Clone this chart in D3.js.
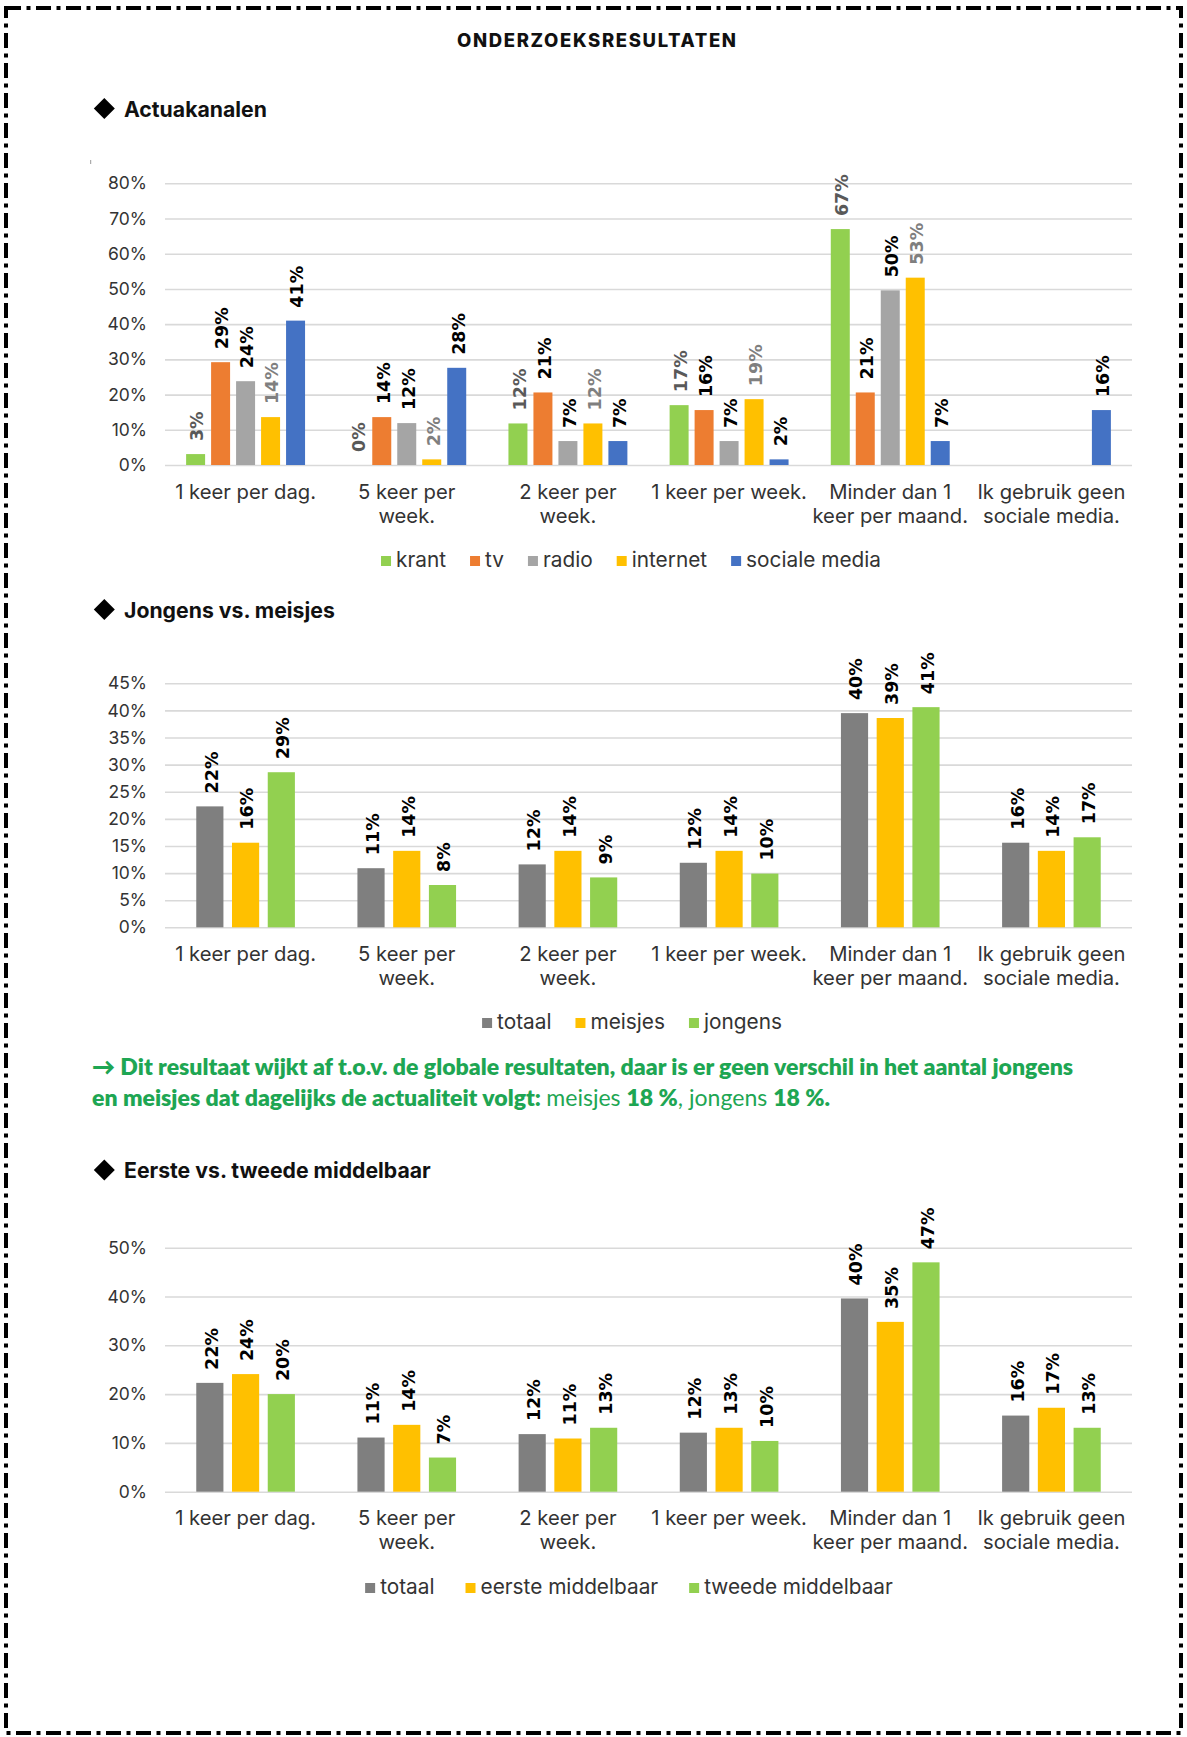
<!DOCTYPE html>
<html><head><meta charset="utf-8">
<script src="https://cdn.jsdelivr.net/npm/d3@7"></script>
<style>
html,body{margin:0;padding:0;background:#fff;}
svg{display:block;font-family:Inter,Lato,"Open Sans",sans-serif;}
</style></head><body>
<svg id="c" width="1187" height="1737"></svg>
<script>
// ---------- data ----------
const categories = ["1 keer per dag.", "5 keer per\nweek.", "2 keer per\nweek.", "1 keer per week.", "Minder dan 1\nkeer per maand.", "Ik gebruik geen\nsociale media."];

// Chart 1: Actuakanalen
const kanalen = ["krant", "tv", "radio", "internet", "sociale media"];
const krant        = [3.1, 0, 11.8, 17.0, 67.0, null];
const tv           = [29.2, 13.6, 20.6, 15.6, 20.6, null];
const radio        = [23.8, 11.9, 6.8, 6.8, 49.6, null];
const internet     = [13.6, 1.6, 11.8, 18.7, 53.2, null];
const socialeMedia = [41.0, 27.6, 6.8, 1.6, 6.8, 15.6];
const ticks1 = [0, 10, 20, 30, 40, 50, 60, 70, 80];

// Chart 2: Jongens vs. meisjes
const groepen2 = ["totaal", "meisjes", "jongens"];
const totaal2  = [22.3, 10.9, 11.6, 11.9, 39.5, 15.6];
const meisjes  = [15.6, 14.1, 14.1, 14.1, 38.6, 14.1];
const jongens  = [28.6, 7.8, 9.2, 9.9, 40.6, 16.6];
const ticks2 = [0, 5, 10, 15, 20, 25, 30, 35, 40, 45];

// Chart 3: Eerste vs. tweede middelbaar
const groepen3 = ["totaal", "eerste middelbaar", "tweede middelbaar"];
const totaal3  = [22.3, 11.1, 11.8, 12.1, 39.6, 15.6];
const eerste   = [24.1, 13.7, 10.9, 13.1, 34.8, 17.2];
const tweede   = [20.0, 7.0, 13.1, 10.4, 47.0, 13.1];
const ticks3 = [0, 10, 20, 30, 40, 50];

// ---------- drawing ----------
const svg = d3.select("#c");
const W = 1187, H = 1737;

svg.append("rect").attr("x", 6).attr("y", 8).attr("width", W - 12).attr("height", H - 12)
  .attr("fill", "none").attr("stroke", "#000").attr("stroke-width", 4)
  .attr("stroke-dasharray", "15,5.5,4,5.5");

function sizeFor(sample, target, weight, family) {
  const t = svg.append("text").attr("font-size", 20).attr("font-weight", weight)
    .attr("font-family", family).text(sample);
  const w = t.node().getComputedTextLength();
  t.remove();
  return 20 * target / w;
}
const REG = "Inter, Lato, sans-serif";
const fsTick = sizeFor("80%", 39, 400, REG);
const fsCat = sizeFor("1 keer per dag.", 141, 400, REG);
const fsLeg = sizeFor("sociale media", 135, 400, REG);
const fsHead = sizeFor("Actuakanalen", 143, 700, REG);

function fitText(sel, target) {
  const w = sel.node().getComputedTextLength();
  const n = sel.text().length;
  sel.attr("letter-spacing", ((target - w) / Math.max(1, n - 1)).toFixed(3));
}

const title = svg.append("text").attr("x", 457).attr("y", 47)
  .attr("font-size", 18.5).attr("font-weight", 800).attr("fill", "#111")
  .attr("font-family", REG)
  .text("ONDERZOEKSRESULTATEN");
fitText(title, 279);

function heading(text, cy) {
  svg.append("path")
    .attr("d", `M${104.3},${cy - 10.5} L${114.8},${cy} L${104.3},${cy + 10.5} L${93.8},${cy} Z`)
    .attr("fill", "#000");
  svg.append("text").attr("x", 124).attr("y", cy + 8)
    .attr("font-size", fsHead).attr("font-weight", 700).attr("fill", "#111")
    .attr("font-family", REG).text(text);
}
heading("Actuakanalen", 108.5);
heading("Jongens vs. meisjes", 609.5);
heading("Eerste vs. tweede middelbaar", 1170);

// tiny stray mark in the original
svg.append("line").attr("x1", 90.7).attr("x2", 90.7).attr("y1", 160).attr("y2", 164)
  .attr("stroke", "#999").attr("stroke-width", 1);

const X0 = 165, X1 = 1132;

function drawChart(o) {
  const g = svg.append("g");
  const y = d3.scaleLinear().domain([0, o.ticks[o.ticks.length - 1]]).range([o.yBottom, o.yTop]);
  const x0 = d3.scaleBand().domain(categories).range([X0, X1])
    .paddingInner(o.padOuterGroup).paddingOuter(o.padOuterGroup / 2);
  const x1 = d3.scaleBand().domain(o.names).range([0, x0.bandwidth()]).paddingInner(o.padBar).paddingOuter(0);

  const axis = g.append("g").attr("transform", `translate(${X0},0)`)
    .call(d3.axisLeft(y).tickValues(o.ticks).tickFormat(d => d + "%")
      .tickSize(-(X1 - X0)).tickPadding(18));
  axis.select(".domain").remove();
  axis.selectAll(".tick line").attr("stroke", "#d9d9d9").attr("stroke-width", 1.6);
  axis.selectAll(".tick text").attr("font-size", fsTick).attr("fill", "#333")
    .attr("font-family", REG);

  o.names.forEach((name, si) => {
    const vals = o.values[si];
    const sg = g.append("g");
    const data = categories.map((c, i) => ({ c, v: vals[i] })).filter(d => d.v !== null);
    sg.selectAll("rect").data(data).join("rect")
      .attr("x", d => x0(d.c) + x1(name))
      .attr("width", x1.bandwidth())
      .attr("y", d => y(d.v))
      .attr("height", d => y(0) - y(d.v))
      .attr("fill", o.colors[si]);
    sg.selectAll("text").data(data).join("text")
      .attr("transform", d => `translate(${x0(d.c) + x1(name) + x1.bandwidth() / 2},${y(d.v) - 13}) rotate(-90)`)
      .attr("dy", "0.45em")
      .attr("font-family", "DejaVu Sans, sans-serif")
      .attr("font-size", 17.5).attr("font-weight", 700)
      .attr("fill", o.labelColors[si])
      .text(d => Math.round(d.v) + "%");
  });

  const cl = g.append("g");
  categories.forEach(c => {
    const t = cl.append("text").attr("x", x0(c) + x0.bandwidth() / 2).attr("y", o.yBottom + 33.5)
      .attr("text-anchor", "middle").attr("font-size", fsCat).attr("fill", "#333")
      .attr("font-family", REG);
    c.split("\n").forEach((line, li) => {
      t.append("tspan").attr("x", x0(c) + x0.bandwidth() / 2).attr("dy", li === 0 ? 0 : 24).text(line);
    });
  });

  const lg = g.append("g");
  let cx = 0;
  o.names.forEach((name, si) => {
    const it = lg.append("g");
    it.append("rect").attr("x", 0).attr("y", -11).attr("width", 10).attr("height", 10).attr("fill", o.colors[si]);
    const t = it.append("text").attr("x", 15).attr("y", 0).attr("font-size", fsLeg).attr("fill", "#333")
      .attr("font-family", REG).text(name);
    const w = 15 + t.node().getComputedTextLength();
    it.attr("transform", `translate(${cx},0)`);
    cx += w + o.legendGap;
  });
  const total = cx - o.legendGap;
  lg.attr("transform", `translate(${o.legendCenter - total / 2},${o.legendY})`);
}

drawChart({
  names: kanalen, values: [krant, tv, radio, internet, socialeMedia],
  colors: ["#92d050", "#ed7d31", "#a5a5a5", "#ffc000", "#4472c4"],
  labelColors: ["#595959", "#000", "#000", "#7f7f7f", "#000"],
  ticks: ticks1, yTop: 183.3, yBottom: 465,
  padOuterGroup: 0.262, padBar: 0.24,
  legendY: 567, legendCenter: 631, legendGap: 24
});

drawChart({
  names: groepen2, values: [totaal2, meisjes, jongens],
  colors: ["#7f7f7f", "#ffc000", "#92d050"],
  labelColors: ["#000", "#000", "#000"],
  ticks: ticks2, yTop: 683.3, yBottom: 927.3,
  padOuterGroup: 0.388, padBar: 0.24,
  legendY: 1029, legendCenter: 632, legendGap: 24
});

drawChart({
  names: groepen3, values: [totaal3, eerste, tweede],
  colors: ["#7f7f7f", "#ffc000", "#92d050"],
  labelColors: ["#000", "#000", "#000"],
  ticks: ticks3, yTop: 1247.7, yBottom: 1491.7,
  padOuterGroup: 0.388, padBar: 0.24,
  legendY: 1594, legendCenter: 629, legendGap: 31
});

// green remark
const green = "#1ea653";
const n1 = svg.append("text").attr("x", 92).attr("y", 1075).attr("font-size", 19).attr("font-weight", 800)
  .attr("font-family", "Lato, sans-serif")
  .attr("fill", green).text("→ Dit resultaat wijkt af t.o.v. de globale resultaten, daar is er geen verschil in het aantal jongens");
const w1 = n1.node().getComputedTextLength();
const fs = 19 * 982 / w1;
n1.attr("font-size", fs);
const n2 = svg.append("text").attr("x", 92).attr("y", 1106).attr("font-size", fs).attr("fill", green)
  .attr("font-family", "Lato, sans-serif");
n2.append("tspan").attr("font-weight", 800).text("en meisjes dat dagelijks de actualiteit volgt: ");
n2.append("tspan").attr("font-weight", 400).text("meisjes ");
n2.append("tspan").attr("font-weight", 800).text("18 %");
n2.append("tspan").attr("font-weight", 400).text(", jongens ");
n2.append("tspan").attr("font-weight", 800).text("18 %.");
</script>
</body></html>
